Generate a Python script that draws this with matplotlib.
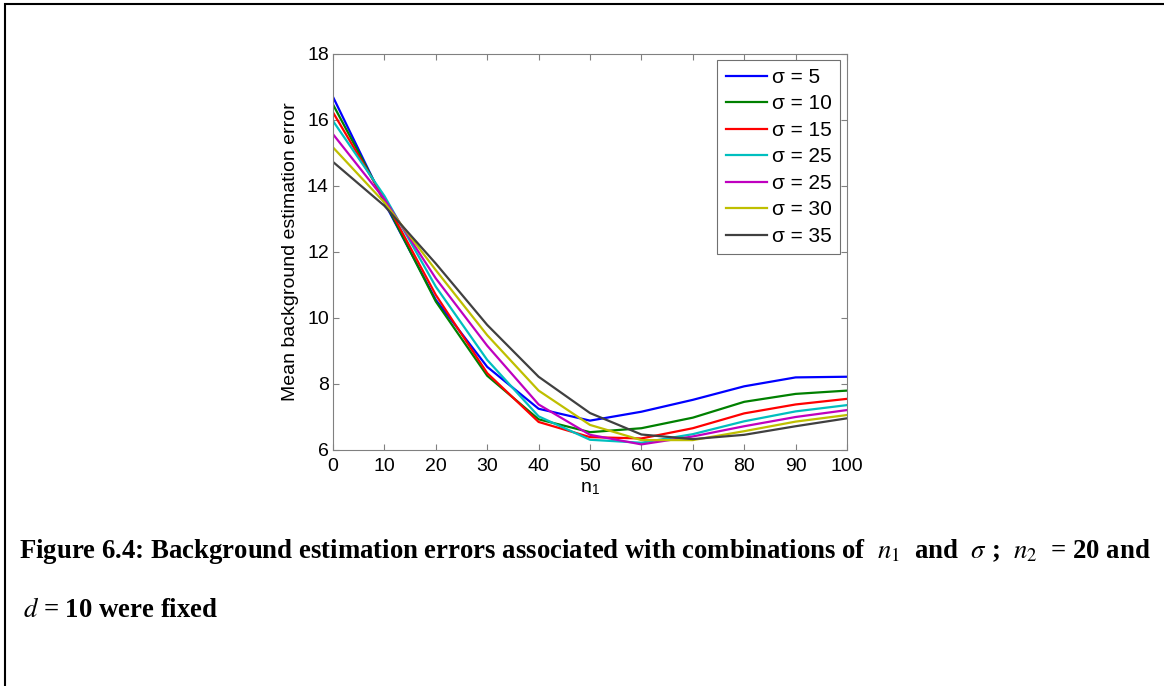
import numpy as np
import matplotlib
matplotlib.use("Agg")
import matplotlib.pyplot as plt
from matplotlib.patches import Rectangle

# n1 values and mean background estimation error for each sigma
n1 = [0, 10, 20, 30, 40, 50, 60, 70, 80, 90, 100]
labels = ["σ = 5", "σ = 10", "σ = 15", "σ = 25", "σ = 25", "σ = 30", "σ = 35"]
err_s5 = [16.70, 13.50, 10.55, 8.52, 7.25, 6.89, 7.16, 7.52, 7.93, 8.20, 8.22]
err_s10 = [16.47, 13.55, 10.50, 8.25, 6.93, 6.54, 6.66, 6.98, 7.46, 7.70, 7.80]
err_s15 = [16.23, 13.60, 10.70, 8.33, 6.85, 6.39, 6.35, 6.66, 7.11, 7.38, 7.55]
err_s25a = [15.97, 13.70, 10.95, 8.73, 7.02, 6.31, 6.22, 6.48, 6.87, 7.17, 7.36]
err_s25b = [15.57, 13.60, 11.20, 9.16, 7.38, 6.46, 6.17, 6.41, 6.72, 7.00, 7.21]
err_s30 = [15.17, 13.50, 11.45, 9.48, 7.80, 6.76, 6.30, 6.30, 6.57, 6.86, 7.06]
err_s35 = [14.73, 13.40, 11.65, 9.79, 8.22, 7.12, 6.47, 6.33, 6.46, 6.72, 6.96]

series = [err_s5, err_s10, err_s15, err_s25a, err_s25b, err_s30, err_s35]
colors = [(0, 0, 1), (0, 0.5, 0), (1, 0, 0), (0, 0.75, 0.75),
          (0.75, 0, 0.75), (0.75, 0.75, 0), (0.25, 0.25, 0.25)]

plt.rcParams['font.family'] = ['Liberation Sans', 'DejaVu Sans']
plt.rcParams['mathtext.fontset'] = 'stix'

W, H = 1164, 686
fig = plt.figure(figsize=(W / 100, H / 100), dpi=100)
ax = fig.add_axes([333 / W, 1 - 450 / H, (847 - 333) / W, (450 - 54) / H])

for y, c, lab in zip(series, colors, labels):
    ax.plot(n1, y, color=c, lw=1.6, label=lab)

ax.set_xlim(0, 100)
ax.set_ylim(6, 18)
ax.set_xticks(np.arange(0, 101, 10))
ax.set_yticks(np.arange(6, 19, 2))
ax.tick_params(direction='in', top=True, right=True, length=4, width=0.8,
               color='#808080', labelsize=14)
ax.tick_params(axis='x', pad=6)
ax.tick_params(axis='y', pad=3)
for s in ax.spines.values():
    s.set_color('#808080')
    s.set_linewidth(0.8)

ax.set_ylabel("Mean background estimation error", fontsize=14, labelpad=6)
ax.set_xlabel(r"n$_\mathregular{1}$", fontsize=14, labelpad=3)

leg = ax.legend(loc='upper right', bbox_to_anchor=(0.986, 0.986), borderaxespad=0,
                fontsize=15, handlelength=2.0, handletextpad=0.2,
                labelspacing=0.36, fancybox=False, framealpha=1,
                borderpad=0.4)
leg.get_frame().set_edgecolor('#707070')
leg.get_frame().set_linewidth(0.8)

# page border
fig.patches.append(Rectangle((5 / W, -0.1), 1.2, 1 - 4 / H + 0.1,
                             transform=fig.transFigure, fill=False,
                             edgecolor='black', lw=1.5))

cap_font = dict(family='Liberation Serif', weight='bold', fontsize=19.3)
fig.text(19 / W, 1 - 558 / H,
         r"Figure 6.4: Background estimation errors associated with combinations of  $n_1$  and  $\sigma$ ;  $n_2$  = 20 and",
         va='baseline', ha='left', **cap_font)
fig.text(23 / W, 1 - 617 / H, r"$d$ = 10 were fixed",
         va='baseline', ha='left', **cap_font)

fig.savefig("out.png", dpi=100)
